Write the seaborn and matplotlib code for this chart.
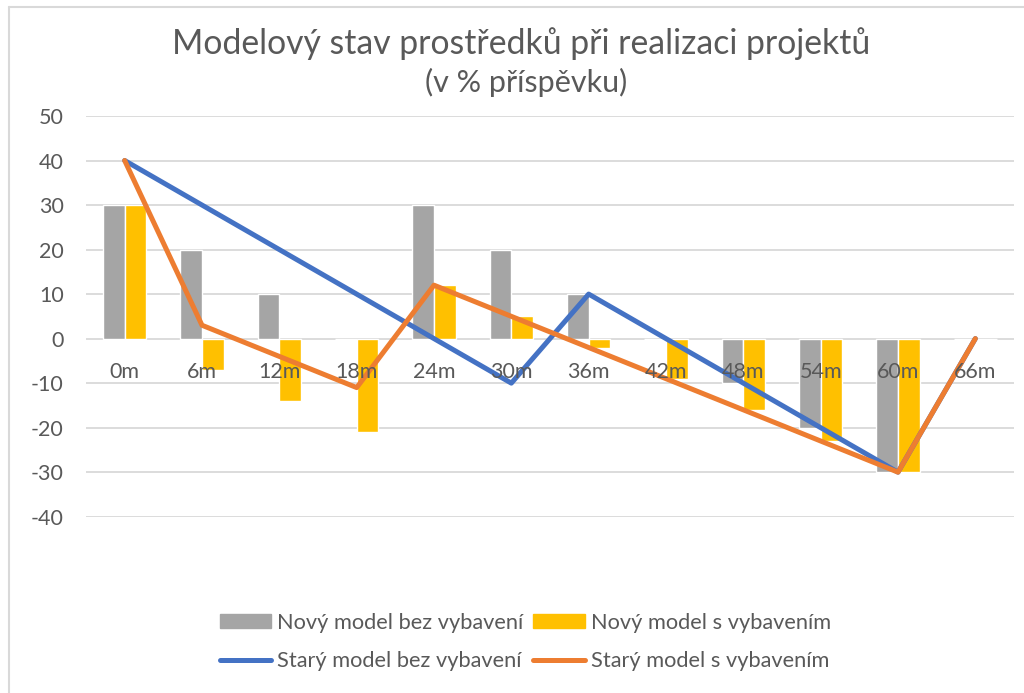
import numpy as np
import pandas as pd
import matplotlib
matplotlib.use('Agg')
import matplotlib.pyplot as plt
import seaborn as sns
from matplotlib.patches import Patch
from matplotlib.lines import Line2D

categories = ['0m', '6m', '12m', '18m', '24m', '30m', '36m', '42m', '48m', '54m', '60m', '66m']
novy_bez = [30, 20, 10, 0, 30, 20, 10, 0, -10, -20, -30, 0]
novy_s = [30, -7, -14, -21, 12, 5, -2, -9, -16, -23, -30, 0]
stary_bez = [40, 30, 20, 10, 0, -10, 10, 0, -10, -20, -30, 0]
stary_s = [40, 3, -4, -11, 12, 5, -2, -9, -16, -23, -30, 0]

labels = ['Nový model bez vybavení', 'Nový model s vybavením',
          'Starý model bez vybavení', 'Starý model s vybavením']
colors = ['#A5A5A5', '#FFC000', '#4472C4', '#ED7D31']

bars = pd.DataFrame({
    'kategorie': categories * 2,
    'hodnota': novy_bez + novy_s,
    'serie': [labels[0]] * len(categories) + [labels[1]] * len(categories),
})
lines = pd.DataFrame({
    'pos': list(range(len(categories))) * 2,
    'hodnota': stary_bez + stary_s,
    'serie': [labels[2]] * len(categories) + [labels[3]] * len(categories),
})

sns.set_style('white')
plt.rcParams['font.family'] = ['Lato', 'DejaVu Sans']
plt.rcParams['axes.unicode_minus'] = False

fig = plt.figure(figsize=(10.24, 6.93), dpi=100)
ax = fig.add_axes([86 / 1024, 1 - 516.7 / 693, 928 / 1024, (516.7 - 116) / 693])

yticks = list(range(-40, 51, 10))
for y in yticks:
    ax.axhline(y, color='#D9D9D9', linewidth=1.3, zorder=1)

sns.barplot(data=bars, x='kategorie', y='hodnota', hue='serie', order=categories,
            palette=colors[:2], width=0.56, gap=0, saturation=1, legend=False, ax=ax, zorder=2)
sns.lineplot(data=lines, x='pos', y='hodnota', hue='serie', palette=colors[2:],
             linewidth=3.6, legend=False, ax=ax, zorder=3, solid_capstyle='round')

ax.set_xlim(-0.5, len(categories) - 0.5)
ax.set_ylim(-40, 50)
ax.set_yticks(yticks)
ax.grid(False)
for s in ax.spines.values():
    s.set_visible(False)
ax.spines['bottom'].set_position(('data', 0))
ax.set_xticks(range(len(categories)))
ax.set_xticklabels(categories)
ax.xaxis.set_zorder(4)  # category labels sit on top of bars and lines
ax.tick_params(axis='x', length=0, pad=17, labelsize=15.5, labelcolor='#595959')
ax.tick_params(axis='y', length=0, pad=16, labelsize=15.5, labelcolor='#595959')
ax.set_xlabel('')
ax.set_ylabel('')

fig.text(0.509, 1 - 44 / 693, 'Modelový stav prostředků při realizaci projektů',
         ha='center', va='center', fontsize=24.3, color='#595959')
fig.text(0.514, 1 - 82 / 693, '(v % příspěvku)', ha='center', va='center',
         fontsize=22, color='#595959')

handles = [Patch(color=colors[0]), Line2D([], [], color=colors[2], linewidth=3.6, solid_capstyle='round'),
           Patch(color=colors[1]), Line2D([], [], color=colors[3], linewidth=3.6, solid_capstyle='round')]
leg_labels = [labels[0], labels[2], labels[1], labels[3]]
fig.legend(handles, leg_labels, ncol=2, loc='center', bbox_to_anchor=(0.513, 1 - 642 / 693),
           frameon=False, fontsize=15.7, labelcolor='#595959', handlelength=2.35,
           handleheight=0.55, handletextpad=0.28, columnspacing=0.45, labelspacing=0.85)

# chart area border
fig.add_artist(plt.Line2D([9 / 1024, 9 / 1024], [0, 1 - 7 / 693], transform=fig.transFigure,
                          color='#D9D9D9', linewidth=1.5))
fig.add_artist(plt.Line2D([9 / 1024, 1], [1 - 7 / 693, 1 - 7 / 693], transform=fig.transFigure,
                          color='#D9D9D9', linewidth=1.5))

fig.savefig('out.png', dpi=100)
